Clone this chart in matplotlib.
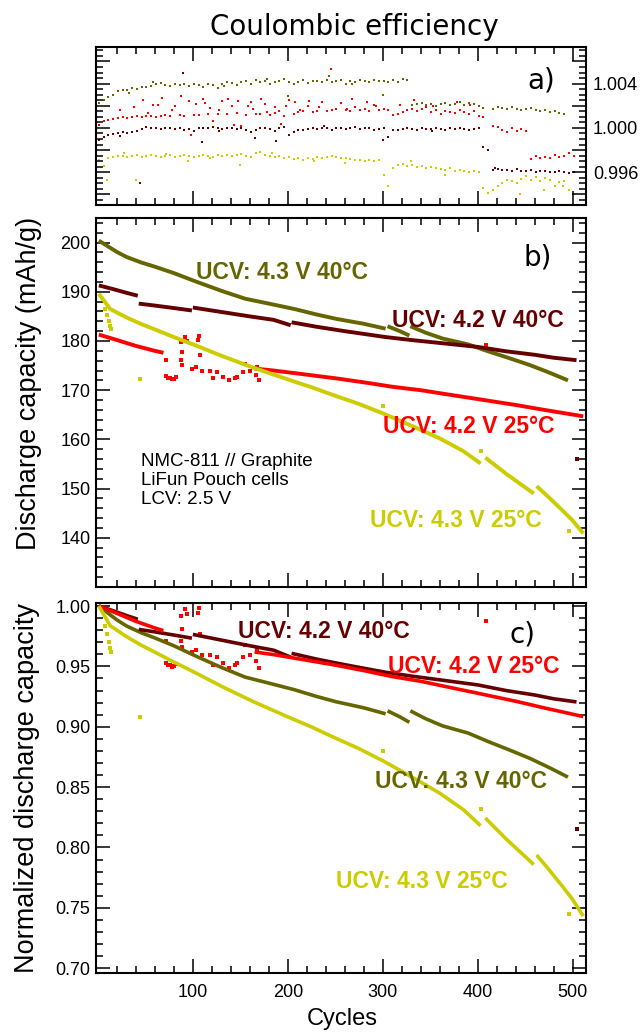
import numpy as np
import matplotlib
matplotlib.use("Agg")
import matplotlib.pyplot as plt
from matplotlib.ticker import MultipleLocator, FixedLocator

plt.rcParams["font.family"] = ["Liberation Sans", "DejaVu Sans"]

nan = np.nan

# colours of the four cells
col_43_40 = "#666600"
col_42_40 = "#660000"
col_42_25 = "#ff0000"
col_43_25 = "#cccc00"

labels = ["UCV: 4.3 V 40°C", "UCV: 4.2 V 40°C", "UCV: 4.2 V 25°C", "UCV: 4.3 V 25°C"]

# ---- a) coulombic efficiency, deviation from 1 in units of 1e-5, every 5th cycle
cycles_ce = np.arange(1, 502, 5)
ce_43_40 = [225, 250, 280, 300, 330, 345, 340, 360, 350, 370,
            365, 380, 395, 405, 390, 380, 400, 385, 395, 375,
            400, 385, 370, 395, 390, 360, 400, 410, 405, 390,
            415, 420, 400, 435, 410, 425, 400, 415, 425, 440,
            410, 400, 415, 430, 405, 420, 425, 410, 435, 415,
            420, 430, 400, 425, 415, 435, 420, 410, 430, 420,
            425, 410, 430, 415, 440, 435, 205, 215, 225, 210,
            220, 200, 215, 225, 205, 220, 230, 210, 225, 215,
            195, 180, nan, 175, 190, 180, 170, 185, 175, 160,
            170, 180, 165, 150, 160, 145, 155, 135, 125, nan,
            nan]
ce_42_40 = [-105, -80, -60, -55, -45, -40, -50, -35, -30, -10,
            5, 0, -5, -10, -5, 0, -10, -5, -15, -10,
            -30, -5, 0, -5, 5, 0, -10, -5, 0, -10,
            -5, -15, -40, -20, -5, 0, -10, -30, -5, 10,
            -60, -40, -20, -15, -10, -5, -10, 0, -5, -15,
            -5, 0, -10, -5, 5, -10, 0, -5, -15, -10,
            0, -80, -20, -15, -10, -5, -10, -15, -5, -10,
            -10, -5, -10, -15, -5, -10, 0, -10, -15, -10,
            -5, -170, -200, -380, -370, -375, -380, -385, -370, -390,
            -385, -380, -395, -390, -385, -400, -395, -390, -400, -405,
            -400]
ce_42_25 = [30, 60, 75, 85, 90, 95, 90, 100, 105, 100,
            110, 105, 100, 105, 115, 110, 200, 120, 110, 240,
            115, 120, 260, 125, 60, 130, 240, 125, 200, 135,
            20, 120, 230, 130, 125, 215, 120, 135, 150, 110,
            250, 130, 145, 155, 200, 140, 150, 230, 155, 160,
            170, 225, 160, 150, 190, 165, 175, 155, 210, 165,
            170, 165, 120, 130, 145, 160, 175, 150, 170, 185,
            140, 160, 130, 155, 145, 135, 160, 140, 125, 150,
            105, 95, nan, 20, 5, -20, -35, 0, -30, -10,
            -25, -280, -250, -270, -260, -275, -240, -265, -250, -230,
            -255]
ce_43_25 = [-290, -340, -270, -260, -250, -255, -265, -250, -245, -260,
            -255, -240, -250, -265, -255, -245, -260, -250, -240, -255,
            -265, -250, -245, -255, -260, -240, -250, -245, -255, -240,
            -235, -250, -260, -225, -215, -240, -250, -260, -255, -270,
            -265, -280, -275, -285, -270, -280, -265, -275, -260, -255,
            -265, -275, -270, -280, -290, -285, -300, -290, -295, -285,
            -420, -520, -360, -330, -325, -340, -335, -350, -345, -360,
            -355, -365, -370, -375, -360, -385, -380, -390, -395, -385,
            -400, -540, -590, -560, -520, -500, -470, -480, -500, -460,
            -430, -470, -440, -480, -450, -470, -520, -490, -480, -560,
            -600]

# scattered extra CE points
ce_out_43_40_cyc = [200, 300, 243, 33, 58, 133, 178, 268]
ce_out_43_40_val = [285, 300, 470, 315, 410, 375, 445, 395]
ce_out_42_40_cyc = [90, 110, 165, 188, 300, 44, 23, 128, 238, 352, 418]
ce_out_42_40_val = [500, -130, -90, -120, -110, -495, -75, -25, 15, -30, -360]
ce_out_42_25_cyc = [23, 38, 47, 58, 67, 88, 103, 118, 137, 143, 158, 172, 187,
                    193, 208, 222, 245, 262, 268, 283, 293, 318, 333, 353, 378, 392,
                    53, 63, 78, 98, 113, 128, 148, 163, 178, 198, 213, 233]
ce_out_42_25_val = [160, 190, 255, 205, 270, 285, 215, 180, 265, 30, 195, 260, 190,
                    40, 230, 245, 530, 175, 265, 230, 195, 210, 250, 195, 230, 205,
                    135, 210, 160, -60, 225, 165, 240, 175, 140, 200, 165, 190]
ce_out_43_25_cyc = [10, 40, 95, 150, 260, 330, 365, 445, 470, 490, 27, 72, 118, 183, 228]
ce_out_43_25_val = [-470, -470, -300, -330, -320, -300, -420, -600, -560, -520,
                    -230, -235, -270, -230, -300]

# ---- b) discharge capacity (mAh/g)
cyc_43_40 = [1, 10, 20, 30, 45, 60, 80, 103, 130, 155, 180, 207, 230, 251, 280, 303,
             304, 305, 318, 328, 328.5, 329, 345, 363, 390, 411, 435, 455, 475, 495]
cap_43_40 = [200.4, 199.3, 198.1, 197.1, 196.0, 195.1, 193.8, 192.1, 190.2, 188.6, 187.6,
             186.5, 185.4, 184.5, 183.5, 182.5, nan, 183.0, 182.0, 181.1, nan, 183.0,
             181.7, 180.5, 179.3, 177.9, 176.4, 175.1, 173.6, 172.0]
cyc_42_40 = [1, 15, 30, 42, 42.5, 43, 60, 80, 99, 99.5, 100, 130, 160, 185, 203, 203.5,
             204, 230, 260, 303, 330, 360, 400, 430, 460, 480, 504]
cap_42_40 = [191.3, 190.6, 189.8, 189.2, nan, 187.6, 187.2, 186.7, 186.2, nan, 186.8,
             185.9, 185.0, 184.3, 183.2, nan, 183.8, 182.9, 182.0, 180.8, 180.2, 179.6,
             178.8, 177.9, 177.2, 176.6, 176.1]
cyc_42_25 = [1, 20, 40, 60, 69, 70, 165, 185, 210, 251, 280, 310, 340, 363, 400, 440, 470, 511]
cap_42_25 = [181.3, 180.2, 179.0, 178.0, 177.6, nan, 174.4, 174.0, 173.4, 172.4, 171.6,
             170.7, 170.0, 169.3, 168.2, 167.0, 166.0, 164.7]
cyc_43_25 = [1, 13, 30, 45, 62, 80, 103, 130, 162, 180, 203, 225, 248, 275, 300, 330, 360,
             385, 403, 405, 408, 430, 459, 460.5, 462, 475, 489, 500, 511]
cap_43_25 = [189.6, 186.5, 184.8, 183.5, 182.2, 180.8, 179.1, 177.0, 174.7, 173.5, 172.0,
             170.6, 169.0, 167.2, 165.3, 162.8, 160.2, 157.6, 155.1, nan, 156.3, 153.0,
             149.0, nan, 150.5, 148.2, 145.6, 143.5, 140.9]

# scattered capacity points
out_42_25_cyc = [72, 74, 76, 78, 80, 82, 72, 87, 89, 92, 94, 87, 89, 106, 105, 99, 103,
                 110, 108, 118, 121, 125, 132, 138, 144, 147, 153, 155, 160, 166, 170, 168, 409]
out_42_25_cap = [172.8, 172.5, 172.4, 172.2, 172.3, 172.6, 176.1, 179.8, 177.8, 180.9,
                 180.1, 176.1, 175.1, 181.0, 180.3, 174.4, 174.7, 174.0, 177.1, 174.0,
                 172.4, 173.7, 172.7, 172.0, 172.4, 172.7, 173.7, 175.4, 174.0, 173.0,
                 172.0, 174.7, 179.1]
out_43_25_cyc = [8, 10, 12, 13, 14, 44, 300, 403, 496]
out_43_25_cap = [186.5, 185.2, 184.0, 183.0, 182.4, 172.2, 166.8, 157.7, 141.3]
out_42_40_cyc = [504]
out_42_40_cap = [156.0]

series = [
    (cyc_43_40, cap_43_40, [], [], col_43_40),
    (cyc_42_40, cap_42_40, out_42_40_cyc, out_42_40_cap, col_42_40),
    (cyc_42_25, cap_42_25, out_42_25_cyc, out_42_25_cap, col_42_25),
    (cyc_43_25, cap_43_25, out_43_25_cyc, out_43_25_cap, col_43_25),
]

fig = plt.figure(figsize=(6.41, 10.32), dpi=100)
W, H = 641, 1032
ax_a = fig.add_axes([96 / W, 1 - 205 / H, 490 / W, 158 / H])
ax_b = fig.add_axes([96 / W, 1 - 587 / H, 490 / W, 369 / H])
ax_c = fig.add_axes([96 / W, 1 - 973 / H, 490 / W, 370 / H])

for ax in (ax_a, ax_b, ax_c):
    ax.set_xlim(-2, 514)
    ax.xaxis.set_major_locator(FixedLocator([100, 200, 300, 400, 500]))
    ax.xaxis.set_minor_locator(FixedLocator(np.arange(20, 520, 20)))
    ax.tick_params(which="both", direction="in", top=True, right=True,
                   width=1.1, labelsize=13)
    ax.tick_params(which="major", length=10)
    ax.tick_params(which="minor", length=5)
    for s in ax.spines.values():
        s.set_linewidth(1.5)

# a) coulombic efficiency
ce_sets = [
    (ce_43_40, ce_out_43_40_cyc, ce_out_43_40_val, col_43_40),
    (ce_42_25, ce_out_42_25_cyc, ce_out_42_25_val, col_42_25),
    (ce_42_40, ce_out_42_40_cyc, ce_out_42_40_val, col_42_40),
    (ce_43_25, ce_out_43_25_cyc, ce_out_43_25_val, col_43_25),
]
for vals, oc, ov, col in ce_sets:
    ax_a.scatter(cycles_ce, 1 + 1e-5 * np.array(vals), s=4, marker="s", color=col,
                 linewidths=0)
    ax_a.scatter(oc, 1 + 1e-5 * np.array(ov), s=4, marker="s", color=col, linewidths=0)
ax_a.set_ylim(0.99305, 1.0073)
ticks_a = [0.994, 0.996, 0.998, 1.000, 1.002, 1.004, 1.006]
ax_a.set_yticks(ticks_a, ["", "0.996", "", "1.000", "", "1.004", ""])
ax_a.yaxis.set_minor_locator(MultipleLocator(0.0005))
ax_a.tick_params(labelbottom=False, labelleft=False, labelright=True, pad=5)
ax_a.text(0.937, 0.786, "a)", transform=ax_a.transAxes, ha="right", va="center",
          fontsize=20, family="DejaVu Sans")

# b) and c) capacity
for cyc, cap, oc, ov, col in series:
    cap = np.array(cap)
    ref = cap[0]
    ax_b.plot(cyc, cap, color=col, lw=2.8, solid_capstyle="butt")
    ax_c.plot(cyc, cap / ref, color=col, lw=2.6, solid_capstyle="butt")
    if oc:
        ax_b.scatter(oc, ov, s=6, marker="s", color=col, linewidths=0)
        ax_c.scatter(oc, np.array(ov) / ref, s=6, marker="s", color=col, linewidths=0)

ax_b.set_ylim(130, 205)
ax_b.yaxis.set_major_locator(FixedLocator([140, 150, 160, 170, 180, 190, 200]))
ax_b.yaxis.set_minor_locator(MultipleLocator(2))
ax_b.tick_params(labelbottom=False, pad=4)
ax_b.set_ylabel("Discharge capacity (mAh/g)", fontsize=19.5)
ax_b.yaxis.set_label_coords(-0.11, 0.553)
ax_b.text(0.931, 0.894, "b)", transform=ax_b.transAxes, ha="right", va="center",
          fontsize=20, family="DejaVu Sans")

lab_kw = dict(fontsize=16.5, fontweight="bold", ha="left", va="center")
ax_b.text(103, 194.0, labels[0], color=col_43_40, **lab_kw)
ax_b.text(310, 184.2, labels[1], color=col_42_40, **lab_kw)
ax_b.text(300, 162.6, labels[2], color=col_42_25, **lab_kw)
ax_b.text(287, 143.6, labels[3], color=col_43_25, **lab_kw)
ax_b.text(45, 151.7, "NMC-811 // Graphite\nLiFun Pouch cells\nLCV: 2.5 V",
          fontsize=13.5, ha="left", va="center", linespacing=1.15)

ax_c.set_ylim(0.696, 1.0025)
ax_c.yaxis.set_major_locator(MultipleLocator(0.05))
ax_c.yaxis.set_minor_locator(MultipleLocator(0.01))
ax_c.yaxis.set_major_formatter(lambda v, p: f"{v:.2f}")
ax_c.tick_params(axis="x", pad=8)
ax_c.tick_params(axis="y", pad=4)
ax_c.set_ylabel("Normalized discharge capacity", fontsize=19.5)
ax_c.yaxis.set_label_coords(-0.114, 0.5)
ax_c.set_xlabel("Cycles", fontsize=17)
ax_c.xaxis.set_label_coords(0.503, -0.095)
ax_c.text(0.896, 0.915, "c)", transform=ax_c.transAxes, ha="right", va="center",
          fontsize=20, family="DejaVu Sans")
ax_c.text(148, 0.9787, labels[1], color=col_42_40, **lab_kw)
ax_c.text(305, 0.9498, labels[2], color=col_42_25, **lab_kw)
ax_c.text(292, 0.8546, labels[0], color=col_43_40, **lab_kw)
ax_c.text(251, 0.7718, labels[3], color=col_43_25, **lab_kw)

fig.text(354 / W, 1 - 35 / H, "Coulombic efficiency", ha="center", va="baseline",
         fontsize=20, family="DejaVu Sans")

fig.savefig("out.png", dpi=100)
